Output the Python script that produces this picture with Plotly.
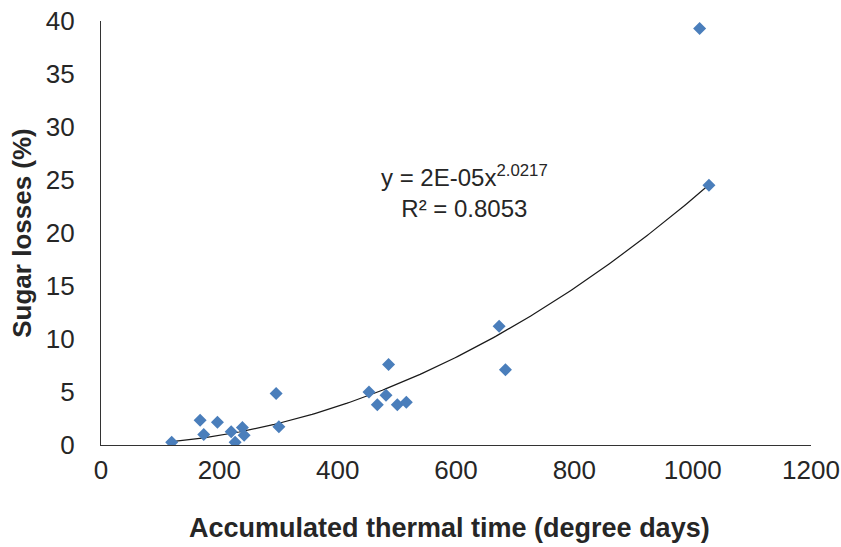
import numpy as np
import plotly.graph_objects as go

# Data
thermal_time = [119.5, 167.5, 173.7, 196.8, 220, 226.7, 239, 241.9, 296, 300.6,
                452.9, 467, 481.7, 486, 500.8, 516, 672.9, 683.6, 1011.8, 1027.5]
sugar_losses = [0.25, 2.33, 1.0, 2.14, 1.26, 0.25, 1.64, 0.91, 4.87, 1.73,
                5.0, 3.8, 4.69, 7.6, 3.8, 4.03, 11.2, 7.1, 39.3, 24.5]

# Power trendline coefficients as displayed on the chart
coef_a = 2e-05
coef_b = 2.0217
r_squared = 0.8053

x_ticks = [0, 200, 400, 600, 800, 1000, 1200]
y_ticks = [0, 5, 10, 15, 20, 25, 30, 35, 40]

x_title = "Accumulated thermal time (degree days)"
y_title = "Sugar losses (%)"

trend_x = np.linspace(min(thermal_time), max(thermal_time), 200)
trend_y = coef_a * trend_x ** coef_b

FONT = "Liberation Sans, Arial, sans-serif"
TXT = "#262626"

fig = go.Figure()
fig.add_trace(go.Scatter(
    x=trend_x, y=trend_y, mode="lines",
    line=dict(color="#1a1a1a", width=1.2),
    hoverinfo="skip", showlegend=False,
))
fig.add_trace(go.Scatter(
    x=thermal_time, y=sugar_losses, mode="markers",
    marker=dict(symbol="diamond", size=10, color="#4A7EBB",
                line=dict(width=0)),
    showlegend=False,
))

fig.add_annotation(
    x=615, y=23.9, xref="x", yref="y",
    text=f"y = 2E-05x<sup>{coef_b}</sup><br>R² = {r_squared}",
    showarrow=False, align="center",
    font=dict(family=FONT, size=24, color=TXT),
)

# x-axis title placed as annotation (slightly left of plot centre, as in reference)
fig.add_annotation(
    x=0.4915, y=-0.196, xref="paper", yref="paper",
    xanchor="center", yanchor="middle",
    text=f"<b>{x_title}</b>", showarrow=False,
    font=dict(family=FONT, size=27, color=TXT),
)

fig.update_layout(
    width=841, height=547,
    margin=dict(l=101, r=30, t=21, b=102),
    paper_bgcolor="white", plot_bgcolor="white",
    font=dict(family=FONT, color=TXT),
    xaxis=dict(
        range=[0, 1200], tickvals=x_ticks, ticks="",
        showgrid=False, zeroline=False, automargin=False,
        showline=True, linecolor="#333333", linewidth=1.3,
        tickfont=dict(size=26, color=TXT),
        ticklabelstandoff=2,
    ),
    yaxis=dict(
        range=[0, 40], tickvals=y_ticks, ticks="",
        showgrid=False, zeroline=False, automargin=False,
        showline=True, linecolor="#333333", linewidth=1.3,
        tickfont=dict(size=26, color=TXT),
        ticklabelstandoff=20,
        title=dict(text=f"<b>{y_title}</b>",
                   font=dict(size=26, color=TXT), standoff=6),
    ),
)

fig.write_html(
    "out.html",
    config={"displayModeBar": False},
    post_script="document.body.style.margin='0';document.body.style.overflow='hidden';",
)
